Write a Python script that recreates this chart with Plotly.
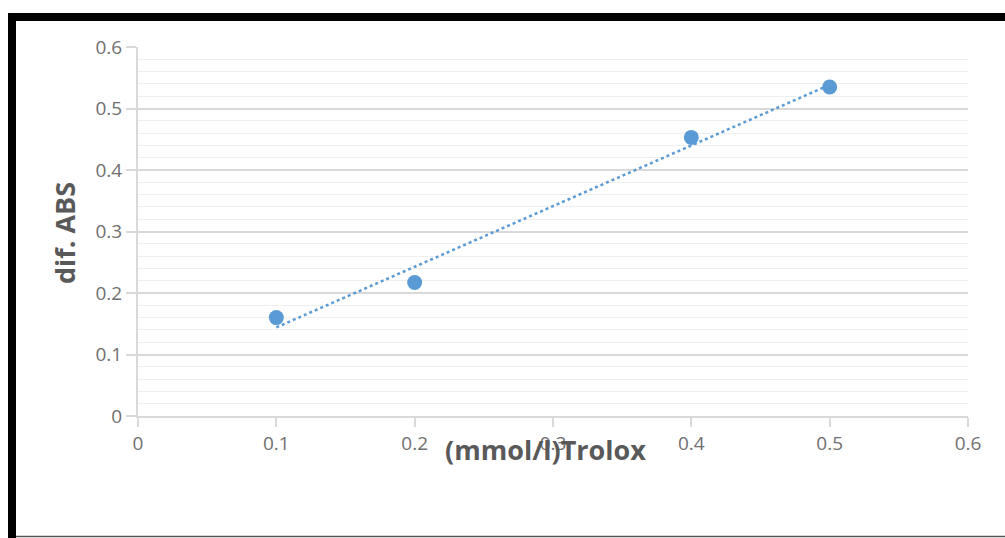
import numpy as np
import plotly.graph_objects as go

# Trolox concentration (mmol/l) and measured absorbance difference
trolox = [0.1, 0.2, 0.4, 0.5]
dif_abs = [0.16, 0.217, 0.453, 0.535]

x_ticks = [0, 0.1, 0.2, 0.3, 0.4, 0.5, 0.6]
y_ticks = [0, 0.1, 0.2, 0.3, 0.4, 0.5, 0.6]

W, H = 1005, 538
BLUE = "#5b9bd5"
GRID = "#d9d9d9"
MINOR = "#efefef"
TEXT = "#595959"
TICK_TEXT = "#707070"

# least-squares trendline
slope, intercept = np.polyfit(trolox, dif_abs, 1)
trend_x = [min(trolox), max(trolox)]
trend_y = [slope * v + intercept for v in trend_x]

fig = go.Figure()
fig.add_trace(go.Scatter(
    x=trend_x, y=trend_y, mode="lines",
    line=dict(color=BLUE, width=2.5, dash="dot"),
    hoverinfo="skip", showlegend=False,
))
fig.add_trace(go.Scatter(
    x=trolox, y=dif_abs, mode="markers",
    marker=dict(color=BLUE, size=15),
    showlegend=False,
))

def px_x(p):
    return p / W

def px_y(p):
    return 1 - p / H

fig.update_layout(
    width=W, height=H, autosize=False,
    margin=dict(l=0, r=0, t=0, b=0, pad=0, autoexpand=False),
    paper_bgcolor="white", plot_bgcolor="white",
    font=dict(family="Open Sans", color=TICK_TEXT, size=19),
    xaxis=dict(
        domain=[px_x(138), px_x(968)], automargin=False,
        range=[0, 0.6], tickvals=x_ticks, ticktext=[f"{v:g}" for v in x_ticks],
        showgrid=False, zeroline=False,
        showline=True, linecolor=GRID, linewidth=2,
        ticks="outside", ticklen=9, tickcolor=GRID, tickwidth=2,
        tickfont=dict(size=19, color=TICK_TEXT),
    ),
    yaxis=dict(
        domain=[px_y(416), px_y(47)], automargin=False,
        range=[0, 0.6], tickvals=y_ticks, ticktext=[f"{v:g}" for v in y_ticks],
        showgrid=True, gridcolor=GRID, gridwidth=2, zeroline=False,
        showline=True, linecolor=GRID, linewidth=2,
        ticks="outside", ticklen=10, tickcolor=GRID, tickwidth=2,
        tickfont=dict(size=19, color=TICK_TEXT),
        minor=dict(dtick=0.02, showgrid=True, gridcolor=MINOR, gridwidth=1, ticks=""),
    ),
    annotations=[
        dict(text="<b>dif. ABS</b>", x=px_x(64), y=px_y(233), xref="paper", yref="paper",
             xanchor="center", yanchor="middle",
             showarrow=False, textangle=-90, font=dict(size=27, color=TEXT)),
        dict(text="<b>(mmol/l)Trolox</b>", x=px_x(545), y=px_y(449), xref="paper", yref="paper",
             xanchor="center", yanchor="middle",
             showarrow=False, font=dict(size=27, color=TEXT)),
    ],
    shapes=[
        # black frame around the chart
        dict(type="rect", xref="paper", yref="paper", x0=px_x(8), x1=1, y0=px_y(21), y1=px_y(13),
             fillcolor="black", line=dict(width=0), layer="above"),
        dict(type="rect", xref="paper", yref="paper", x0=px_x(8), x1=px_x(16), y0=0, y1=px_y(13),
             fillcolor="black", line=dict(width=0), layer="above"),
        dict(type="line", xref="paper", yref="paper", x0=px_x(16), x1=1, y0=px_y(536.5), y1=px_y(536.5),
             line=dict(color="#555555", width=1.5), layer="above"),
    ],
)

fig.write_html(
    "out.html",
    post_script="document.body.style.margin='0';document.body.style.overflow='hidden';",
)
